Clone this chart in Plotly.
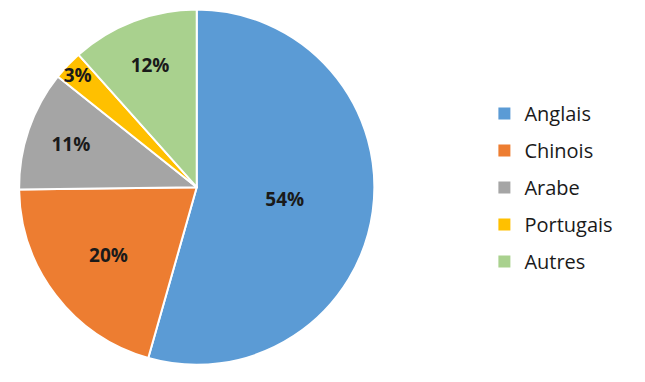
import plotly.graph_objects as go

labels = ["Anglais", "Chinois", "Arabe", "Portugais", "Autres"]
values = [54.4, 20.4, 10.9, 2.7, 11.6]
colors = ["#5B9BD5", "#ED7D31", "#A5A5A5", "#FFC000", "#A9D18E"]

fig = go.Figure()
fig.add_trace(go.Pie(
    labels=labels, values=values, sort=False, direction="clockwise", rotation=0,
    marker=dict(colors=colors, line=dict(color="white", width=2)),
    texttemplate="%{percent:.0%}", textposition="inside", insidetextorientation="horizontal",
    textfont=dict(family="Open Sans", size=19, color="#1a1a1a", weight="bold"),
    showlegend=False, domain=dict(x=[0.02, 0.59], y=[0.045, 0.975]),
    hoverinfo="label+percent",
))
for lab, col in zip(labels, colors):
    fig.add_trace(go.Scatter(
        x=[None], y=[None], mode="markers", name=lab, legendgroup=lab,
        marker=dict(symbol="square", size=9, color=col),
    ))

fig.update_layout(
    width=645, height=382, margin=dict(l=0, r=0, t=0, b=0),
    paper_bgcolor="white", plot_bgcolor="white",
    xaxis=dict(visible=False), yaxis=dict(visible=False),
    uniformtext=dict(minsize=19, mode="show"),
    legend=dict(x=0.751, y=0.509, xanchor="left", yanchor="middle",
                font=dict(family="Open Sans", size=20, color="#1a1a1a"),
                tracegroupgap=8, itemsizing="constant"),
)
fig.write_html("out.html")
